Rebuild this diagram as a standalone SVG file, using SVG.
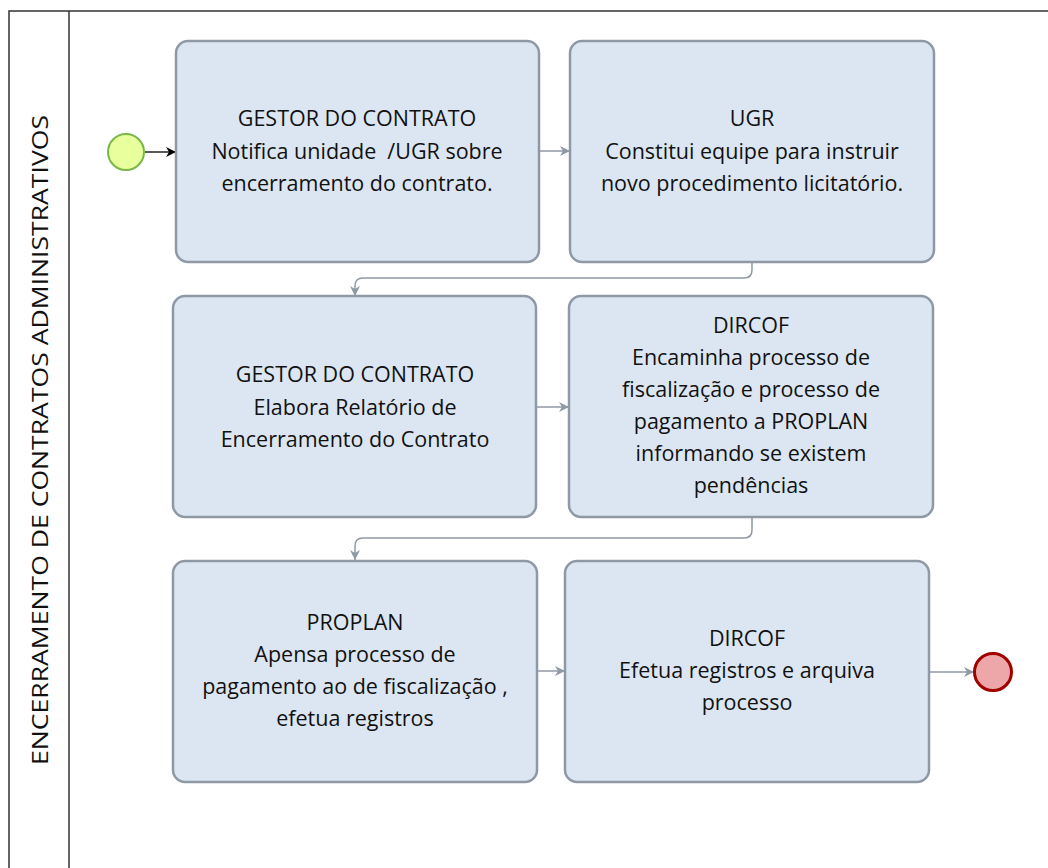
<svg xmlns="http://www.w3.org/2000/svg" width="1048" height="868" viewBox="0 0 1048 868">
<defs>
<style>
.task{fill:#dce6f2;stroke:#8f99a6;stroke-width:2.5}
.t{font-family:"Open Sans","Liberation Sans",sans-serif;font-size:21.5px;fill:#111;text-anchor:middle}
.c{fill:none;stroke:#8f99a6;stroke-width:1.5}
</style>
<marker id="ag" viewBox="0 0 10 10" refX="10" refY="5" markerWidth="10" markerHeight="10" markerUnits="userSpaceOnUse" orient="auto"><path d="M0,0 L10,5 L0,10 L3,5 z" fill="#8f99a6"/></marker>
<marker id="ab" viewBox="0 0 10 10" refX="10" refY="5" markerWidth="10" markerHeight="10" markerUnits="userSpaceOnUse" orient="auto"><path d="M0,0 L10,5 L0,10 L3,5 z" fill="#000"/></marker>
</defs>
<rect width="1048" height="868" fill="#fff"/>
<g id="pool">
<rect x="9" y="11" width="1060" height="900" fill="none" stroke="#333" stroke-width="1.5"/>
<line x1="69" y1="11" x2="69" y2="868" stroke="#333" stroke-width="1.5"/>
<text x="0" y="0" transform="translate(48,440) rotate(-90)" font-family="Open Sans,Liberation Sans,sans-serif" font-size="22" text-anchor="middle" fill="#111" textLength="650" lengthAdjust="spacingAndGlyphs">ENCERRAMENTO DE CONTRATOS ADMINISTRATIVOS</text>
</g>
<g id="connectors">
<line x1="145" y1="152" x2="176" y2="152" stroke="#000" stroke-width="1.3" marker-end="url(#ab)"/>
<line x1="539" y1="151" x2="570" y2="151" class="c" marker-end="url(#ag)"/>
<path d="M752,262 L752,270 Q752,278 744,278 L363,278 Q355,278 355,286 L355,296" class="c" marker-end="url(#ag)"/>
<line x1="536" y1="407" x2="569" y2="407" class="c" marker-end="url(#ag)"/>
<path d="M752,517 L752,530 Q752,538 744,538 L363,538 Q355,538 355,546 L355,560" class="c" marker-end="url(#ag)"/>
<line x1="537" y1="671" x2="565" y2="671" class="c" marker-end="url(#ag)"/>
<line x1="929" y1="672" x2="974" y2="672" class="c" marker-end="url(#ag)"/>
</g>
<g id="start"><circle cx="126" cy="152" r="18" fill="#e8ff9e" stroke="#7ab648" stroke-width="2"/></g>
<g id="end"><circle cx="993" cy="672" r="18.5" fill="#eea7a8" stroke="#a00000" stroke-width="3"/></g>
<g id="task1"><rect class="task" x="176" y="41" width="363" height="221" rx="12"/>
<text class="t"><tspan x="357" y="126">GESTOR DO CONTRATO</tspan><tspan x="357" y="159" xml:space="preserve">Notifica unidade  /UGR sobre</tspan><tspan x="357" y="191">encerramento do contrato.</tspan></text></g>
<g id="task2"><rect class="task" x="570" y="41" width="364" height="221" rx="12"/>
<text class="t"><tspan x="752" y="126">UGR</tspan><tspan x="752" y="159">Constitui equipe para instruir</tspan><tspan x="752" y="191">novo procedimento licitatório.</tspan></text></g>
<g id="task3"><rect class="task" x="173" y="296" width="363" height="221" rx="12"/>
<text class="t"><tspan x="355" y="382">GESTOR DO CONTRATO</tspan><tspan x="355" y="415">Elabora Relatório de</tspan><tspan x="355" y="447">Encerramento do Contrato</tspan></text></g>
<g id="task4"><rect class="task" x="569" y="296" width="364" height="221" rx="12"/>
<text class="t"><tspan x="751" y="333">DIRCOF</tspan><tspan x="751" y="365">Encaminha processo de</tspan><tspan x="751" y="397">fiscalização e processo de</tspan><tspan x="751" y="429">pagamento a PROPLAN</tspan><tspan x="751" y="461">informando se existem</tspan><tspan x="751" y="493">pendências</tspan></text></g>
<g id="task5"><rect class="task" x="173" y="561" width="364" height="221" rx="12"/>
<text class="t"><tspan x="355" y="630">PROPLAN</tspan><tspan x="355" y="662">Apensa processo de</tspan><tspan x="355" y="694">pagamento ao de fiscalização ,</tspan><tspan x="355" y="726">efetua registros</tspan></text></g>
<g id="task6"><rect class="task" x="565" y="561" width="364" height="221" rx="12"/>
<text class="t"><tspan x="747" y="646">DIRCOF</tspan><tspan x="747" y="678">Efetua registros e arquiva</tspan><tspan x="747" y="710">processo</tspan></text></g>
</svg>
